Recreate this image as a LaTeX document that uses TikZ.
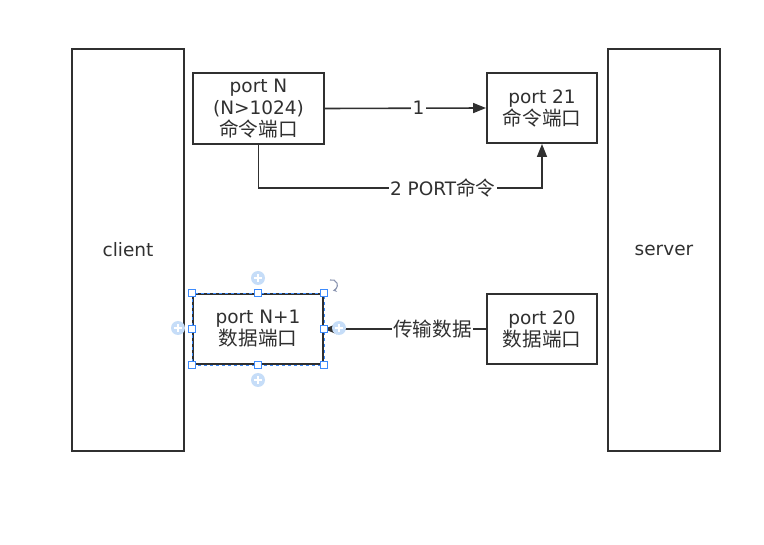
\documentclass[tikz,border=0pt]{standalone}
\usepackage{fontspec}
\setmainfont{DejaVu Sans}
\newfontfamily\cjk[Scale=1.06]{Noto Sans CJK SC}
\usetikzlibrary{arrows.meta,calc}
\definecolor{ink}{HTML}{303030}
\definecolor{selblue}{HTML}{3D8BFD}
\definecolor{plusblue}{HTML}{C6DDF8}
\definecolor{rotgray}{HTML}{8A94B0}
\newcommand{\zh}[1]{{\cjk #1}}
\tikzset{
  box/.style={draw=ink, line width=1.9pt, fill=white, text=ink, align=center,
    inner sep=0pt, font=\fontsize{18.5}{22}\selectfont},
  arr/.style={draw=ink, line width=1.6pt, -{Triangle[length=13pt,width=10pt]}},
  lab/.style={fill=white, text=ink, inner sep=1.5pt, font=\fontsize{18.5}{22}\selectfont},
  handle/.style={draw=selblue, fill=white, line width=0.8pt, minimum size=7pt, inner sep=0pt},
  plus/.style={fill=plusblue, circle, minimum size=14pt, inner sep=0pt},
}
\begin{document}
\begin{tikzpicture}[x=1pt,y=-1pt]
\useasboundingbox (0,0) rectangle (764,545);
\fill[white] (0,0) rectangle (764,545);

\node[box, minimum width=112pt, minimum height=402pt] (client) at (128,250) {client};
\node[box, minimum width=112pt, minimum height=402pt] (server) at (664,250) {server};

\node[box, minimum width=131pt, minimum height=71pt] (pn) at (258.5,108.5) {port N\\(N>1024)\\\zh{命令端口}};
\node[box, minimum width=110pt, minimum height=70pt] (p21) at (542,108) {port 21\\\zh{命令端口}};
\node[box, minimum width=130pt, minimum height=70pt] (pn1) at (258,329) {port N+1\\\zh{数据端口}};
\node[box, minimum width=110pt, minimum height=70pt] (p20) at (542,329) {port 20\\\zh{数据端口}};

\draw[arr] (pn.east) -- node[lab, pos=0.58] {1} (p21.west);

\coordinate (ylev) at (0,188);
\coordinate (c1) at (pn.south |- ylev);
\coordinate (c2) at (p21.south |- ylev);
\draw[arr] (pn.south) -- (c1) -- node[lab, pos=0.65] {2 PORT\zh{命令}} (c2) -- (p21.south);

\draw[arr] (p20.west) -- node[lab, pos=0.33] {\zh{传输数据}} (pn1.east);

% selection decoration of the selected node
\draw[selblue, dashed, line width=0.7pt] (pn1.north west) rectangle (pn1.south east);
\foreach \a/\n in {north west/h1, north/h2, north east/h3, west/h4, east/h5, south west/h6, south/h7, south east/h8}
  \node[handle] (\n) at (pn1.\a) {};
\foreach \p/\n in {{(258,278)}/q1, {(258,380)}/q2, {(178,328)}/q3, {(339,328)}/q4}{
  \node[plus] (\n) at \p {};
  \draw[white, line width=1.2pt] ($(\n)+(-4,0)$) -- ($(\n)+(4,0)$) ($(\n)+(0,-4)$) -- ($(\n)+(0,4)$);
}
\draw[rotgray, line width=1.1pt, -{Stealth[length=4pt,width=4pt]}] (330,280) arc[start angle=110, end angle=-80, radius=5.5pt];
\end{tikzpicture}
\end{document}
